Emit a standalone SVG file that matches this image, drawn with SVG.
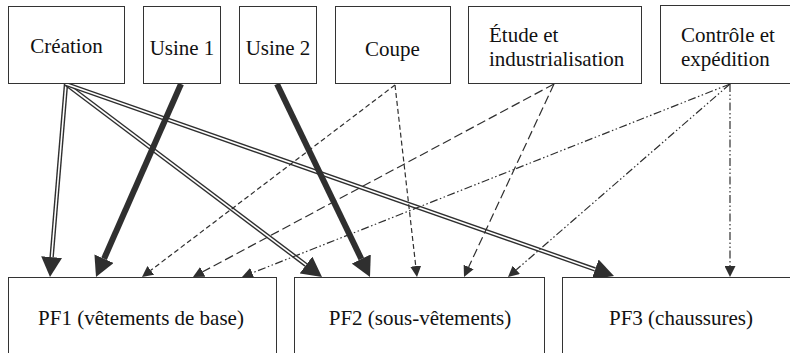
<svg xmlns="http://www.w3.org/2000/svg" width="790" height="353" viewBox="0 0 790 353">
  <style>
    .box { fill: #ffffff; stroke: #333333; stroke-width: 1; }
    text { font-family: 'Liberation Serif', 'Times New Roman', serif; font-size: 21px; fill: #111111; }
    .mid { text-anchor: middle; }
    .dbl-out { stroke: #2f2f2f; stroke-width: 4.4; fill: none; }
    .dbl-in { stroke: #ffffff; stroke-width: 1.6; fill: none; }
    .thick { stroke: #2f2f2f; stroke-width: 6; fill: none; }
    .dash-s { stroke: #2f2f2f; stroke-width: 1.2; fill: none; stroke-dasharray: 5 3; }
    .dash-l { stroke: #2f2f2f; stroke-width: 1.2; fill: none; stroke-dasharray: 9 4; }
    .dash-dd { stroke: #2f2f2f; stroke-width: 1.2; fill: none; stroke-dasharray: 8 2.5 1.5 2.5 1.5 2.5; }
  </style>
  <defs>
    <marker id="headBig" markerUnits="userSpaceOnUse" viewBox="0 0 20 21" markerWidth="20" markerHeight="21" refX="0" refY="10.5" orient="auto">
      <path d="M0,0 L20,10.5 L0,21 Z" fill="#2f2f2f"/>
    </marker>
    <marker id="headSmall" markerUnits="userSpaceOnUse" viewBox="0 0 11 11" markerWidth="11" markerHeight="11" refX="0" refY="5.5" orient="auto">
      <path d="M0,0 L11,5.5 L0,11 Z" fill="#2f2f2f"/>
    </marker>
  </defs>

  <g id="connectors">
    <!-- Création: double lines -->
    <line class="dbl-out" x1="66" y1="84" x2="51.65" y2="257.07" marker-end="url(#headBig)"/>
    <line class="dbl-in" x1="66" y1="84" x2="51.65" y2="257.07"/>
    <line class="dbl-out" x1="66" y1="84" x2="306.03" y2="264.96" marker-end="url(#headBig)"/>
    <line class="dbl-in" x1="66" y1="84" x2="306.03" y2="264.96"/>
    <line class="dbl-out" x1="66" y1="84" x2="595.12" y2="269.39" marker-end="url(#headBig)"/>
    <line class="dbl-in" x1="66" y1="84" x2="595.12" y2="269.39"/>
    <!-- Usines: thick lines -->
    <line class="thick" x1="181" y1="84" x2="104.06" y2="258.7" marker-end="url(#headBig)"/>
    <line class="thick" x1="277" y1="84" x2="361.32" y2="258.98" marker-end="url(#headBig)"/>
    <!-- Coupe: short dashes -->
    <line class="dash-s" x1="395" y1="85" x2="150.76" y2="270.35" marker-end="url(#headSmall)"/>
    <line class="dash-s" x1="395" y1="85" x2="415.75" y2="266.07" marker-end="url(#headSmall)"/>
    <!-- Étude et industrialisation: long dashes -->
    <line class="dash-l" x1="554" y1="84" x2="202.70" y2="271.81" marker-end="url(#headSmall)"/>
    <line class="dash-l" x1="554" y1="84" x2="468.65" y2="267.03" marker-end="url(#headSmall)"/>
    <!-- Contrôle et expédition: dash-dot-dot -->
    <line class="dash-dd" x1="730" y1="84" x2="252.23" y2="272.95" marker-end="url(#headSmall)"/>
    <line class="dash-dd" x1="730" y1="84" x2="516.30" y2="269.78" marker-end="url(#headSmall)"/>
    <line class="dash-dd" x1="730" y1="84" x2="730" y2="266" marker-end="url(#headSmall)"/>
  </g>

  <g id="creation">
    <rect class="box" x="8.5" y="6.5" width="116" height="77"/>
    <text class="mid" x="66.5" y="52.5">Création</text>
  </g>
  <g id="usine1">
    <rect class="box" x="143.5" y="6.5" width="77" height="77"/>
    <text class="mid" x="182" y="55">Usine 1</text>
  </g>
  <g id="usine2">
    <rect class="box" x="239.5" y="6.5" width="77" height="77"/>
    <text class="mid" x="278" y="55">Usine 2</text>
  </g>
  <g id="coupe">
    <rect class="box" x="335.5" y="6.5" width="115" height="77"/>
    <text class="mid" x="392.5" y="56">Coupe</text>
  </g>
  <g id="etude">
    <rect class="box" x="468.5" y="6.5" width="173" height="77"/>
    <text x="489" y="41.5">Étude et</text>
    <text x="489" y="65.5">industrialisation</text>
  </g>
  <g id="controle">
    <rect class="box" x="660.5" y="5.5" width="140" height="78"/>
    <text x="681" y="41.5">Contrôle et</text>
    <text x="681" y="65.5">expédition</text>
  </g>

  <g id="pf1">
    <rect class="box" x="8.5" y="277.5" width="268" height="100"/>
    <text class="mid" x="141" y="325">PF1 (vêtements de base)</text>
  </g>
  <g id="pf2">
    <rect class="box" x="294.5" y="277.5" width="250" height="100"/>
    <text class="mid" x="420" y="325">PF2 (sous-vêtements)</text>
  </g>
  <g id="pf3">
    <rect class="box" x="562.5" y="277.5" width="240" height="100"/>
    <text class="mid" x="681" y="325">PF3 (chaussures)</text>
  </g>
</svg>
